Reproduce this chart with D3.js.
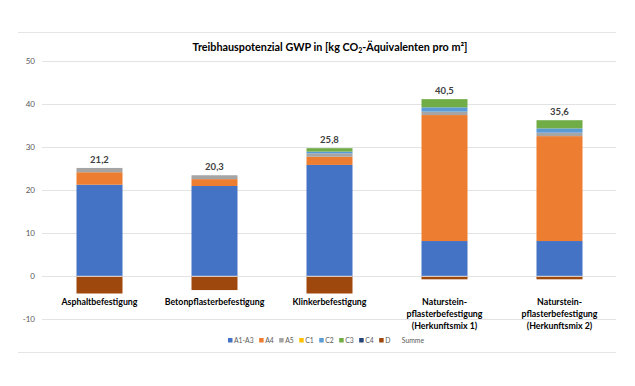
<!DOCTYPE html>
<html>
<head>
<meta charset="utf-8">
<script src="https://cdn.jsdelivr.net/npm/d3@7"></script>
<style>
  body { margin: 0; background: #fff; }
  text { font-family: Lato, "Open Sans", sans-serif; }
</style>
</head>
<body>
<svg id="chart" width="635" height="386"></svg>
<script>
// categories (line breaks as in the original)
const categories = [
  ["Asphaltbefestigung"],
  ["Betonpflasterbefestigung"],
  ["Klinkerbefestigung"],
  ["Naturstein-", "pflasterbefestigung", "(Herkunftsmix 1)"],
  ["Naturstein-", "pflasterbefestigung", "(Herkunftsmix 2)"]
];
const phases = ["A1-A3", "A4", "A5", "C1", "C2", "C3", "C4", "D"];
const colors = ["#4472C4", "#ED7D31", "#A5A5A5", "#FFC000", "#5B9BD5", "#70AD47", "#264478", "#9E480E"];

// values per phase, one per category
const a1a3 = [21.3, 21.0, 25.9, 8.2, 8.2];
const a4   = [2.9, 1.6, 1.9, 29.3, 24.4];
const a5   = [1.0, 0.9, 0.8, 0.8, 0.8];
const c1   = [0, 0, 0, 0, 0];
const c2   = [0, 0, 0.4, 1.0, 1.0];
const c3   = [0, 0, 0.8, 1.9, 1.9];
const c4   = [0, 0, 0, 0, 0];
const dMod = [-4.0, -3.2, -4.0, -0.7, -0.7];
const summe = ["21,2", "20,3", "25,8", "40,5", "35,6"];
const yTicks = [-10, 0, 10, 20, 30, 40, 50];

const series = [a1a3, a4, a5, c1, c2, c3, c4, dMod];

const svg = d3.select("#chart");

// faint frame lines
svg.append("line").attr("x1", 18).attr("x2", 616).attr("y1", 32.5).attr("y2", 32.5)
  .attr("stroke", "#e6e6e6");
svg.append("line").attr("x1", 18).attr("x2", 616).attr("y1", 352.5).attr("y2", 352.5)
  .attr("stroke", "#e6e6e6");

const x = d3.scaleBand().domain(d3.range(categories.length)).range([42, 617]).paddingInner(0.6).paddingOuter(0.3);
const y = d3.scaleLinear().domain([-10, 50]).range([319.3, 61.3]);

// grid + y labels
svg.append("g").selectAll("line").data(yTicks).join("line")
  .attr("x1", 42).attr("x2", 616)
  .attr("y1", d => Math.round(y(d)) + 0.5).attr("y2", d => Math.round(y(d)) + 0.5)
  .attr("stroke", "#e3e3e3");
svg.append("g").selectAll("text").data(yTicks).join("text")
  .attr("x", 35).attr("y", d => y(d) + 3)
  .attr("text-anchor", "end").attr("font-size", 8).attr("fill", "#595959")
  .text(d => d);

// stacked bars: positives stack up from 0, negatives down
categories.forEach((c, i) => {
  let pos = 0, neg = 0;
  series.forEach((s, k) => {
    const v = s[i];
    if (!v) return;
    let y0, y1;
    if (v > 0) { y0 = pos; y1 = pos + v; pos = y1; }
    else { y0 = neg + v; y1 = neg; neg = y0; }
    svg.append("rect")
      .attr("x", x(i)).attr("width", x.bandwidth())
      .attr("y", y(y1)).attr("height", y(y0) - y(y1))
      .attr("fill", colors[k]);
  });
  // white separator at zero
  svg.append("line").attr("x1", x(i)).attr("x2", x(i) + x.bandwidth())
    .attr("y1", y(0)).attr("y2", y(0)).attr("stroke", "#fff").attr("stroke-width", 0.8);
  // Summe label
  svg.append("text")
    .attr("x", x(i) + x.bandwidth() / 2).attr("y", y(pos) - 5)
    .attr("text-anchor", "middle").attr("font-size", 9.5).attr("font-weight", "bold")
    .attr("fill", "#404040").text(summe[i]);
  // category label
  const t = svg.append("text")
    .attr("text-anchor", "middle").attr("font-size", 8.8).attr("font-weight", "bold")
    .attr("fill", "#000");
  c.forEach((line, j) => {
    t.append("tspan").attr("x", x(i) + x.bandwidth() / 2).attr("y", 305 + j * 12).text(line);
  });
});

// title
const title = svg.append("text").attr("x", 330).attr("y", 51)
  .attr("text-anchor", "middle").attr("font-size", 10.8).attr("font-weight", "bold").attr("fill", "#000");
title.append("tspan").text("Treibhauspotenzial GWP in [kg CO");
title.append("tspan").attr("font-size", 7).attr("dy", 2).text("2");
title.append("tspan").attr("dy", -2).text("-Äquivalenten pro m²]");

// legend
const legendItems = phases.concat(["Summe"]);
const lg = svg.append("g").attr("transform", "translate(228,343)");
let lx = 0;
legendItems.forEach((name, k) => {
  if (k < colors.length) {
    lg.append("rect").attr("x", lx).attr("y", -5).attr("width", 4.5).attr("height", 4.5).attr("fill", colors[k]);
    lx += 6;
  } else {
    lx += 6;
  }
  const tx = lg.append("text").attr("x", lx).attr("y", 0).attr("font-size", 6.8).attr("fill", "#595959").text(name);
  lx += tx.node().getComputedTextLength() + 5.5;
});
</script>
</body>
</html>
